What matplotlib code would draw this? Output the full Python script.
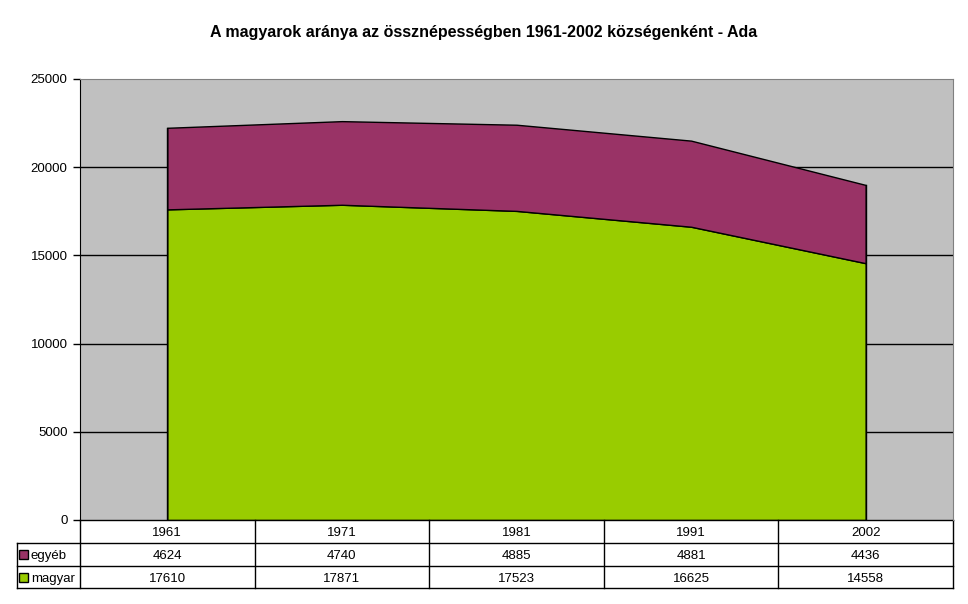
import numpy as np
import matplotlib
matplotlib.use("Agg")
import matplotlib.pyplot as plt
from matplotlib.transforms import blended_transform_factory

years = ["1961", "1971", "1981", "1991", "2002"]
egyeb = [4624, 4740, 4885, 4881, 4436]
magyar = [17610, 17871, 17523, 16625, 14558]
series_names = ["egyéb", "magyar"]
green = "#99CC00"
purple = "#993366"

plt.rcParams["font.family"] = ["Liberation Sans", "DejaVu Sans"]

W, H = 968, 604
fig = plt.figure(figsize=(W / 100, H / 100), dpi=100)
L, R, T, B = 80, 953, 79, 520
ax = fig.add_axes([L / W, 1 - B / H, (R - L) / W, (B - T) / H])
ax.set_facecolor("#C0C0C0")

x = np.arange(len(years)) + 0.5
total = np.array(magyar) + np.array(egyeb)
ax.set_xlim(0, len(years))
ax.set_ylim(0, 25000)
for v in range(5000, 25000, 5000):
    ax.axhline(v, color="black", lw=1, zorder=1)
ax.fill_between(x, 0, magyar, facecolor=green, edgecolor="black", lw=1, zorder=2)
ax.fill_between(x, magyar, total, facecolor=purple, edgecolor="black", lw=1, zorder=2)
ax.plot([x[0], x[0]], [0, total[0]], color="black", lw=1, zorder=3)
ax.plot([x[-1], x[-1]], [0, total[-1]], color="black", lw=1, zorder=3)

ax.set_yticks(range(0, 25001, 5000))
ax.tick_params(axis="y", direction="out", length=5, width=1, labelsize=9.5, pad=4)
ax.set_xticks([])
for s in ["top", "right"]:
    ax.spines[s].set_color("#808080")
ax.spines["bottom"].set_visible(False)
ax.spines["left"].set_color("black")

fig.text(0.5, 1 - 32 / H, "A magyarok aránya az össznépességben 1961-2002 községenként - Ada",
         ha="center", va="center", fontsize=11.5, fontweight="bold")

# data table below the plot
tr = blended_transform_factory(ax.transData, ax.transAxes)
rh = 23 / (B - T)
leg_left = -(L - 17) / ((R - L) / len(years))
kw = dict(color="black", lw=1, transform=tr, clip_on=False)
bot = -3 * rh + 0.003
ax.plot([0, len(years)], [0, 0], **kw)
for i in (1, 2):
    ax.plot([leg_left, len(years)], [-i * rh, -i * rh], **kw)
ax.plot([leg_left, len(years)], [bot, bot], **kw)
for c in range(len(years) + 1):
    ax.plot([c, c], [0, bot], **kw)
ax.plot([leg_left, leg_left], [-rh, bot], **kw)

tkw = dict(transform=tr, ha="center", va="center_baseline", fontsize=9.5)
for i, yr in enumerate(years):
    ax.text(x[i], -0.5 * rh, yr, **tkw)
    ax.text(x[i], -1.5 * rh, str(egyeb[i]), **tkw)
    ax.text(x[i], -2.5 * rh, str(magyar[i]), **tkw)

for j, (name, col) in enumerate(zip(series_names, [purple, green])):
    yc = 1 - (B + 23 * (j + 1) + 11.5) / H
    fig.patches.append(plt.Rectangle((19 / W, yc - 4.5 / H), 9 / W, 9 / H, facecolor=col,
                                     edgecolor="black", lw=1, transform=fig.transFigure))
    fig.text(31 / W, yc, name, ha="left", va="center_baseline", fontsize=9.5)

fig.savefig("out.png", dpi=100)
